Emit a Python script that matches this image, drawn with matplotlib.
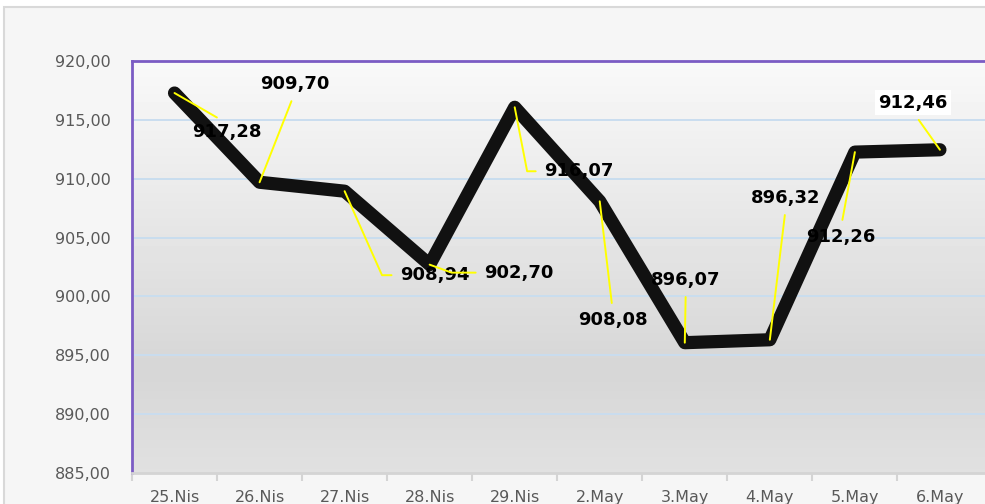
import matplotlib.pyplot as plt
import numpy as np
from matplotlib.patches import Rectangle

# data
dates = ["25.Nis", "26.Nis", "27.Nis", "28.Nis", "29.Nis",
         "2.May", "3.May", "4.May", "5.May", "6.May"]
values = [917.28, 909.70, 908.94, 902.70, 916.07,
          908.08, 896.07, 896.32, 912.26, 912.46]
labels = ["917,28", "909,70", "908,94", "902,70", "916,07",
          "908,08", "896,07", "896,32", "912,26", "912,46"]
yticks = [885, 890, 895, 900, 905, 910, 915, 920]

# label offsets in pixels (dx, dy up), leader attach point, connection style
label_style = [
    ((52, -39), (0.5, 1.0), "arc3"),
    ((35, 98), (0.5, 0.0), "arc3"),
    ((90, -84), (0.0, 0.5), "angle,angleA=0,angleB=114,rad=0"),
    ((89, -8), (0.0, 0.5), "angle,angleA=0,angleB=-20,rad=0"),
    ((64, -64), (0.0, 0.5), "angle,angleA=0,angleB=-79,rad=0"),
    ((13, -119), (0.5, 1.0), "arc3"),
    ((1, 63), (0.5, 0.0), "arc3"),
    ((16, 142), (0.5, 0.0), "arc3"),
    ((-14, -85), (0.5, 1.0), "arc3"),
    ((-27, 47), (0.5, 0.0), "arc3"),
]

fig = plt.figure(figsize=(9.85, 5.04), dpi=100)
fig.patch.set_facecolor("white")

# outer chart frame
fig.patches.append(Rectangle((4 / 985, -0.1), 1.1, (504 - 7) / 504 + 0.1,
                             transform=fig.transFigure, facecolor="#f6f6f6",
                             edgecolor="#d9d9d9", linewidth=1.5, zorder=-5))

ax = fig.add_axes([132 / 985, 31 / 504, (985 - 132) / 985, (473 - 61) / 504])
ax.set_facecolor("none")

x = np.arange(len(dates))
ax.set_xlim(-0.5, len(dates) - 0.5 + 0.03)
ax.set_ylim(885, 920)

# gradient fill of plot area
grad = np.concatenate([np.linspace(0.975, 0.84, 75), np.linspace(0.84, 0.88, 25)])
ax.imshow(grad[:, None], extent=[-0.5, len(dates) + 0.5, 885, 920], aspect="auto",
          cmap="gray", vmin=0, vmax=1, zorder=0)

for v in yticks[1:-1]:
    ax.axhline(v, color="#c9ddef", linewidth=1.4, zorder=1)

ax.plot(x, values, color="#111111", linewidth=9.5, solid_joinstyle="round",
        solid_capstyle="round", zorder=3)

for i, (xi, v) in enumerate(zip(x, values)):
    (dx, dy), rel, conn = label_style[i]
    box = None
    if i == len(values) - 1:
        box = dict(boxstyle="square,pad=0.2", facecolor="white", edgecolor="none")
    ax.annotate(labels[i], (xi, v), xytext=(dx, dy), textcoords="offset pixels",
                ha="center", va="center", fontsize=13, fontweight="bold",
                color="black", family="DejaVu Sans", bbox=box, zorder=4,
                arrowprops=dict(arrowstyle="-", color="#ffff00", lw=1.4,
                                shrinkA=4, shrinkB=0, relpos=rel,
                                connectionstyle=conn))

ax.set_yticks(yticks)
ax.set_yticklabels([f"{v},00" for v in yticks])
ax.set_xticks(x)
ax.set_xticklabels(dates)
ax.set_xticks(np.arange(len(dates)) - 0.5, minor=True)
ax.tick_params(axis="y", length=0, pad=15, labelsize=11.5, labelcolor="#595959")
ax.tick_params(axis="x", which="major", length=0, pad=12, labelsize=11.5,
               labelcolor="#595959")
ax.tick_params(axis="x", which="minor", length=6, width=1.5, color="#d4d4d4")

for side in ["left", "top"]:
    ax.spines[side].set_color("#7b5cc4")
    ax.spines[side].set_linewidth(2)
ax.spines["right"].set_visible(False)
ax.spines["bottom"].set_color("#d4d4d4")
ax.spines["bottom"].set_linewidth(2)

plt.savefig("out.png", dpi=100)
